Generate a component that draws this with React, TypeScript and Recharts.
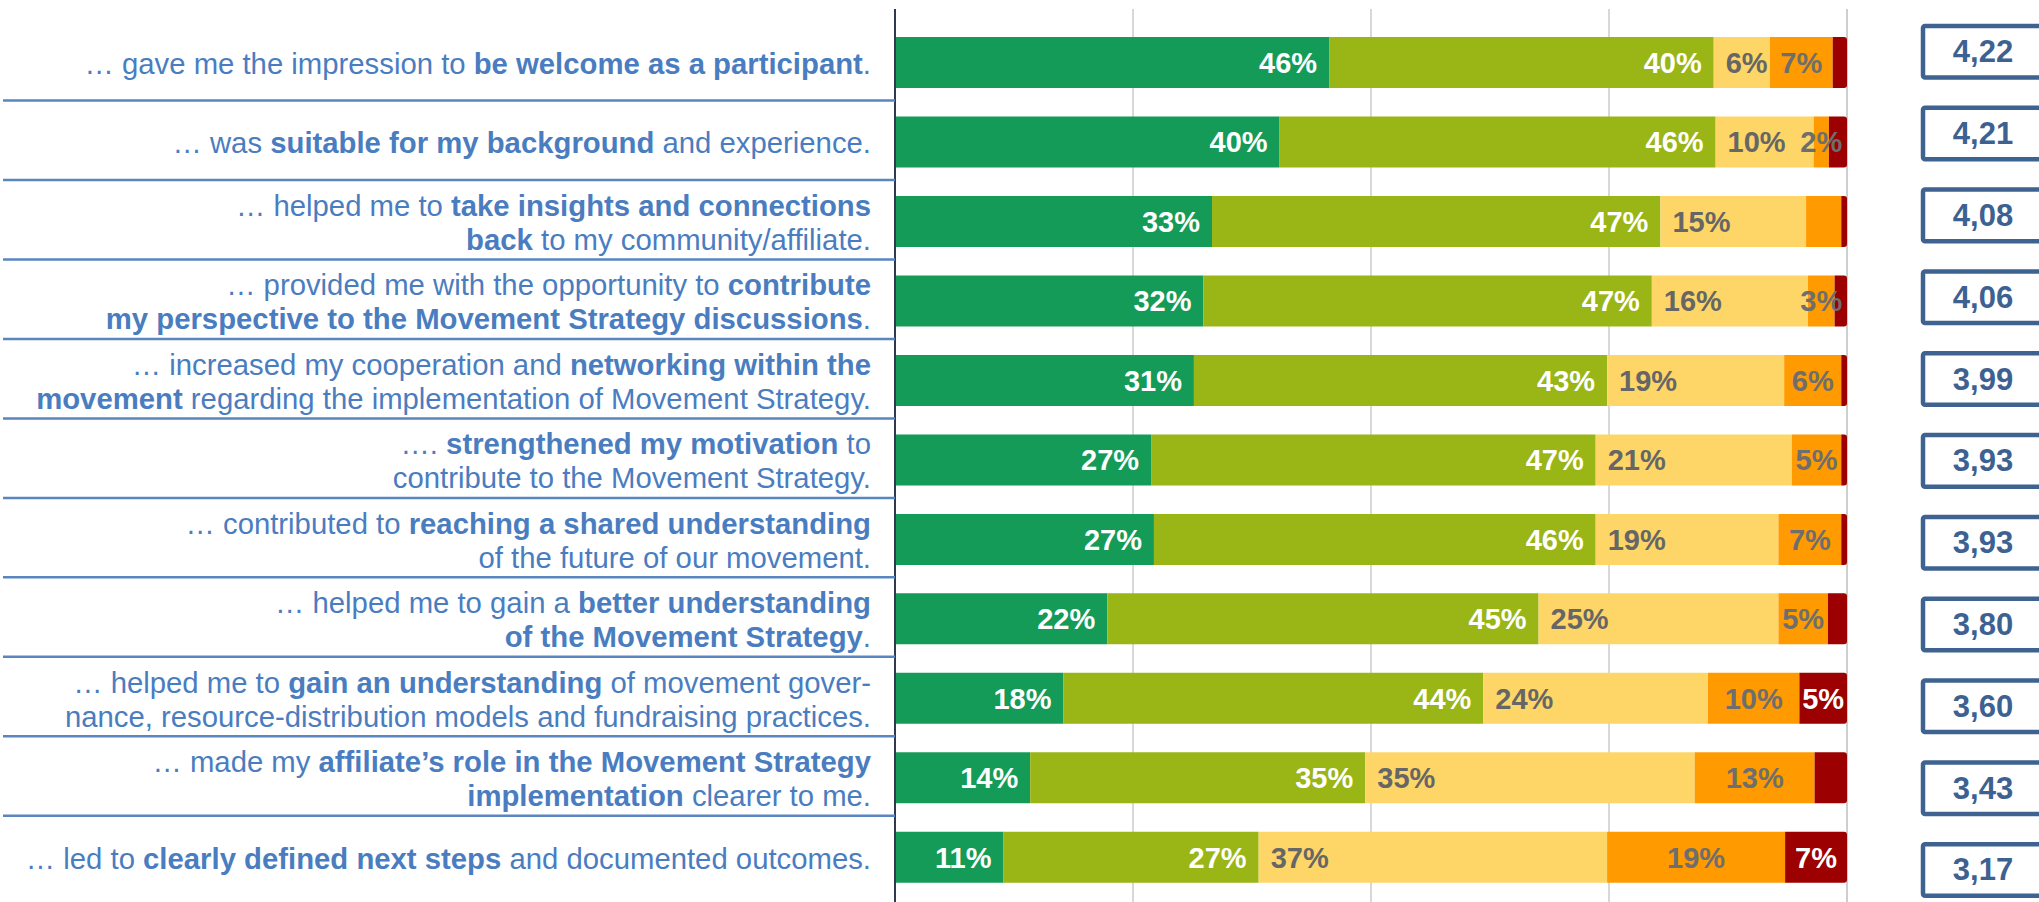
import { Bar, BarChart, CartesianGrid, LabelList, XAxis, YAxis } from "recharts";

// survey items, '*' toggles bold, '|' breaks the line
const questions = [
  "… gave me the impression to *be welcome as a participant*.",
  "… was *suitable for my background* and experience.",
  "… helped me to *take insights and connections|back* to my community/affiliate.",
  "… provided me with the opportunity to *contribute|my perspective to the Movement Strategy discussions*.",
  "… increased my cooperation and *networking within the|movement* regarding the implementation of Movement Strategy.",
  "…. *strengthened my motivation* to|contribute to the Movement Strategy.",
  "… contributed to *reaching a shared understanding*|of the future of our movement.",
  "… helped me to gain a *better understanding|of the Movement Strategy*.",
  "… helped me to *gain an understanding* of movement gover-|nance, resource-distribution models and fundraising practices.",
  "… made my *affiliate’s role in the Movement Strategy|implementation* clearer to me.",
  "… led to *clearly defined next steps* and documented outcomes.",
];

// share of answers in %, from "fully agree" to "fully disagree"
const agreeFully = [45.6, 40.4, 33.3, 32.4, 31.4, 26.9, 27.2, 22.3, 17.7, 14.2, 11.4];
const agreeMostly = [40.4, 45.8, 47.1, 47.1, 43.4, 46.7, 46.4, 45.3, 44.1, 35.2, 26.8];
const neutral = [5.9, 10.3, 15.3, 16.4, 18.6, 20.6, 19.2, 25.2, 23.6, 34.6, 36.6];
const disagreeMostly = [6.6, 1.6, 3.7, 2.8, 6.0, 5.2, 6.6, 5.2, 9.6, 12.6, 18.7];
const disagreeFully = [1.5, 1.9, 0.6, 1.3, 0.6, 0.6, 0.6, 2.0, 5.0, 3.4, 6.5];

// mean scores (shown with decimal comma)
const scores = ["4,22", "4,21", "4,08", "4,06", "3,99", "3,93", "3,93", "3,80", "3,60", "3,43", "3,17"];

// segments without a printed label
const hiddenOrange = [2];
const hiddenRed = [0, 1, 2, 3, 4, 5, 6, 7, 9];

const pct = (v: number, i: number, hidden: number[] = []) =>
  hidden.includes(i) ? undefined : `${Math.round(v)}%`;

const data = questions.map((q, i) => ({
  label: q,
  score: scores[i],
  g: agreeFully[i],
  yg: agreeMostly[i],
  ly: neutral[i],
  o: disagreeMostly[i],
  r: disagreeFully[i],
  gLabel: pct(agreeFully[i], i),
  ygLabel: pct(agreeMostly[i], i),
  lyLabel: pct(neutral[i], i),
  oLabel: pct(disagreeMostly[i], i, hiddenOrange),
  rLabel: pct(disagreeFully[i], i, hiddenRed),
}));

const FONT = "'Liberation Sans', Arial, sans-serif";
const W = 2039;
const H = 920;
const TOP = 9;
const LEFT_W = 895;
const RIGHT_W = 192;
const PAD_LEFT_AXIS = { top: 14, bottom: 22.7 };
const PAD_SCORE_AXIS = { top: 1.8, bottom: 9.1 };
const BAND = (H - TOP - PAD_LEFT_AXIS.top - PAD_LEFT_AXIS.bottom) / questions.length;
const SCORE_BAND = (H - TOP - PAD_SCORE_AXIS.top - PAD_SCORE_AXIS.bottom) / questions.length;

type Seg = { text: string; bold: boolean };

function parseLines(s: string): Seg[][] {
  const lines: Seg[][] = [[]];
  let bold = false;
  let buf = "";
  const flush = () => {
    if (buf) lines[lines.length - 1].push({ text: buf, bold });
    buf = "";
  };
  for (const ch of s) {
    if (ch === "*") {
      flush();
      bold = !bold;
    } else if (ch === "|") {
      flush();
      lines.push([]);
    } else buf += ch;
  }
  flush();
  return lines;
}

function QuestionTick(props: any) {
  const { x, y, payload, index } = props;
  const lines = parseLines(String(payload.value));
  const lineH = 34;
  const isLast = index === questions.length - 1;
  const sepY = y + BAND / 2 - 2;
  return (
    <g>
      {lines.map((segs, li) => (
        <text
          key={li}
          x={x}
          y={y + (li - (lines.length - 1) / 2) * lineH}
          textAnchor="end"
          dominantBaseline="central"
          fill="#4a7dbf"
          fontSize={29.3}
          fontFamily={FONT}
        >
          {segs.map((s, si) => (
            <tspan key={si} fontWeight={s.bold ? "bold" : "normal"}>
              {s.text}
            </tspan>
          ))}
        </text>
      ))}
      {!isLast && (
        <line x1={3} x2={LEFT_W} y1={sepY} y2={sepY} stroke="#5a86c0" strokeWidth={2.5} />
      )}
    </g>
  );
}

function ScoreTick(props: any) {
  const { x, y, payload } = props;
  const i = questions.indexOf(String(payload.value));
  const h = SCORE_BAND * 0.63;
  return (
    <g>
      <rect
        x={x + 76}
        y={y - h / 2}
        width={130}
        height={h}
        rx={2}
        fill="#fff"
        stroke="#3e6391"
        strokeWidth={4.5}
      />
      <text
        x={x + 136}
        y={y}
        textAnchor="middle"
        dominantBaseline="central"
        fill="#3d6190"
        fontSize={31}
        fontWeight="bold"
        fontFamily={FONT}
      >
        {scores[i]}
      </text>
    </g>
  );
}

const labelFont = { fontSize: 29, fontWeight: "bold", fontFamily: FONT };

export default function App() {
  return (
    <div
      style={{
        position: "absolute",
        left: 0,
        top: 0,
        width: W,
        height: 902,
        overflow: "hidden",
        background: "#fff",
      }}
    >
      <BarChart
        width={W}
        height={H}
        data={data}
        layout="vertical"
        margin={{ top: TOP, right: 0, bottom: 0, left: 0 }}
      >
        <CartesianGrid horizontal={false} stroke="#cbcbcb" strokeWidth={1.5} />
        <XAxis type="number" domain={[0, 100]} ticks={[0, 25, 50, 75, 100]} hide />
        <YAxis
          yAxisId="left"
          type="category"
          dataKey="label"
          width={LEFT_W}
          interval={0}
          tickSize={0}
          tickMargin={24}
          tickLine={false}
          axisLine={{ stroke: "#2f3b4c", strokeWidth: 2 }}
          padding={PAD_LEFT_AXIS}
          tick={<QuestionTick />}
        />
        <YAxis
          yAxisId="score"
          orientation="right"
          type="category"
          dataKey="label"
          width={RIGHT_W}
          interval={0}
          tickSize={0}
          tickMargin={0}
          tickLine={false}
          axisLine={false}
          padding={PAD_SCORE_AXIS}
          tick={<ScoreTick />}
        />
        <Bar yAxisId="left" dataKey="g" stackId="a" fill="#149b57" barSize={51} isAnimationActive={false}>
          <LabelList dataKey="gLabel" position="insideRight" offset={12} fill="#fff" {...labelFont} />
        </Bar>
        <Bar yAxisId="left" dataKey="yg" stackId="a" fill="#9ab516" barSize={51} isAnimationActive={false}>
          <LabelList dataKey="ygLabel" position="insideRight" offset={12} fill="#fff" {...labelFont} />
        </Bar>
        <Bar yAxisId="left" dataKey="ly" stackId="a" fill="#fed668" barSize={51} isAnimationActive={false}>
          <LabelList dataKey="lyLabel" position="insideLeft" offset={12} fill="#666666" {...labelFont} />
        </Bar>
        <Bar yAxisId="left" dataKey="o" stackId="a" fill="#ff9a00" barSize={51} isAnimationActive={false}>
          <LabelList dataKey="oLabel" position="center" fill="#6e6e6e" {...labelFont} />
        </Bar>
        <Bar
          yAxisId="left"
          dataKey="r"
          stackId="a"
          fill="#9c0000"
          barSize={51}
          radius={[0, 3, 3, 0]}
          isAnimationActive={false}
        >
          <LabelList dataKey="rLabel" position="center" fill="#fff" {...labelFont} />
        </Bar>
      </BarChart>
    </div>
  );
}
